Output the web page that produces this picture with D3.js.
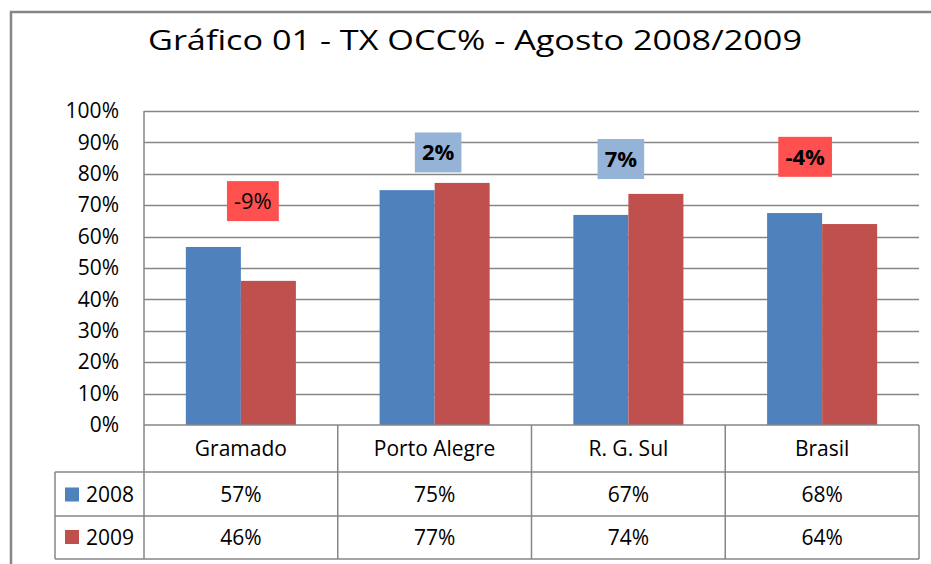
<!DOCTYPE html>
<html><head><meta charset="utf-8">
<script src="https://cdn.jsdelivr.net/npm/d3@7"></script>
<style>html,body{margin:0;padding:0;background:#fff;}svg{display:block;}</style>
</head><body>
<svg id="c" width="931" height="564"></svg>
<script>
const title = "Gráfico 01 - TX OCC% - Agosto 2008/2009";
const categories = ["Gramado", "Porto Alegre", "R. G. Sul", "Brasil"];
const seriesNames = ["2008", "2009"];
const values2008 = [0.57, 0.75, 0.67, 0.68];
const values2009 = [0.46, 0.77, 0.74, 0.64];
const barHeights2008 = [0.567, 0.748, 0.669, 0.675];
const barHeights2009 = [0.459, 0.771, 0.736, 0.640];
const yTicks = [0, 0.1, 0.2, 0.3, 0.4, 0.5, 0.6, 0.7, 0.8, 0.9, 1.0];
const changeLabels = ["-9%", "2%", "7%", "-4%"];
const changeLabelValues = [0.713, 0.868, 0.847, 0.854];
const changeLabelOffsets = [12, 3.5, -7.5, -17];
const changeLabelBold = [false, true, true, true];
const changeLabelColors = ["#FF5050", "#95B3D7", "#95B3D7", "#FF5050"];
const seriesColors = ["#4F81BD", "#C0504D"];

const svg = d3.select("#c");
const font = "'Open Sans', 'Noto Sans', sans-serif";
const grid = "#868686";
const L = 144, R = 919, T = 111, B = 425;

// outer border
svg.append("rect").attr("x", 11).attr("y", 12).attr("width", 940).attr("height", 580)
  .attr("fill", "none").attr("stroke", grid).attr("stroke-width", 2.5);

// title
svg.append("text").attr("x", 148).attr("y", 50).text(title)
  .attr("font-family", font).attr("font-size", 27).attr("fill", "#000")
  .attr("textLength", 654).attr("lengthAdjust", "spacingAndGlyphs");

const y = d3.scaleLinear().domain([0, 1]).range([B, T]);
const x0 = d3.scaleBand().domain(categories).range([L, R]).paddingInner(0.432).paddingOuter(0.216);
const x1 = d3.scaleBand().domain(seriesNames).range([0, x0.bandwidth()]);
const cols = d3.scaleBand().domain(categories).range([L, R]);

// gridlines
svg.append("g").selectAll("line").data(yTicks.filter(d => d > 0)).join("line")
  .attr("x1", L).attr("x2", R).attr("y1", d => Math.round(y(d)) + 0.5).attr("y2", d => Math.round(y(d)) + 0.5)
  .attr("stroke", grid).attr("stroke-width", 1.5);

// y axis tick labels
const yAxis = d3.axisLeft(y).tickValues(yTicks).tickFormat(d3.format(".0%")).tickSize(0).tickPadding(25);
const ga = svg.append("g").attr("transform", `translate(${L},0)`).call(yAxis);
ga.select(".domain").remove();
ga.selectAll("text").attr("font-family", font).attr("font-size", 21).attr("fill", "#000");

// bars
const barData = [barHeights2008, barHeights2009];
const gb = svg.append("g");
categories.forEach((c, i) => {
  seriesNames.forEach((s, j) => {
    const v = barData[j][i];
    gb.append("rect").attr("x", x0(c) + x1(s)).attr("width", x1.bandwidth())
      .attr("y", y(v)).attr("height", y(0) - y(v)).attr("fill", seriesColors[j]);
  });
});

// change labels
categories.forEach((c, i) => {
  const cx = x0(c) + x0.bandwidth() / 2 + changeLabelOffsets[i];
  const cy = y(changeLabelValues[i]);
  const g = svg.append("g");
  const r = g.append("rect").attr("fill", changeLabelColors[i]);
  const t = g.append("text").attr("x", cx).attr("y", cy).attr("dy", "0.36em")
    .attr("text-anchor", "middle").attr("font-family", font).attr("font-size", 22)
    .attr("font-weight", changeLabelBold[i] ? "bold" : "normal").text(changeLabels[i]);
  const bb = t.node().getBBox();
  const w = bb.width + 14, h = 40;
  r.attr("x", cx - w / 2).attr("y", cy - h / 2).attr("width", w).attr("height", h);
});

// data table lines
const gt = svg.append("g").attr("stroke", grid).attr("stroke-width", 1.5).attr("fill", "none");
gt.append("line").attr("x1", L).attr("x2", R).attr("y1", B).attr("y2", B);
[472, 516, 559].forEach(yy => gt.append("line").attr("x1", 55).attr("x2", R).attr("y1", yy).attr("y2", yy));
gt.append("line").attr("x1", 55).attr("x2", 55).attr("y1", 472).attr("y2", 559);
gt.append("line").attr("x1", L).attr("x2", L).attr("y1", T).attr("y2", 559);
categories.forEach(c => {
  const xx = cols(c) + cols.bandwidth();
  gt.append("line").attr("x1", xx).attr("x2", xx).attr("y1", B).attr("y2", 559);
});

// category labels and table values
const txt = (x, yy, s, anchor) => svg.append("text").attr("x", x).attr("y", yy).attr("dy", "0.36em")
  .attr("text-anchor", anchor || "middle").attr("font-family", font).attr("font-size", 21).attr("fill", "#000").text(s);
const rowCenters = [448, 494.5, 537];
categories.forEach(c => txt(cols(c) + cols.bandwidth() / 2, rowCenters[0], c));
const fmt = d3.format(".0%");
[values2008, values2009].forEach((vals, j) => {
  categories.forEach((c, i) => txt(cols(c) + cols.bandwidth() / 2, rowCenters[j + 1], fmt(vals[i])));
  svg.append("rect").attr("x", 65).attr("y", rowCenters[j + 1] - 7).attr("width", 14).attr("height", 14).attr("fill", seriesColors[j]);
  txt(86, rowCenters[j + 1], seriesNames[j], "start");
});
</script>
</body></html>
